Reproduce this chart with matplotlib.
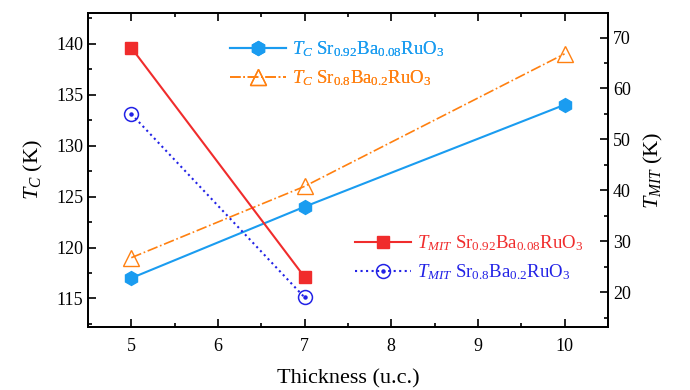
import numpy as np
import matplotlib
matplotlib.use('Agg')
import matplotlib.pyplot as plt
from matplotlib.ticker import MultipleLocator

plt.rcParams['font.family'] = 'Liberation Serif'
plt.rcParams['mathtext.fontset'] = 'custom'
plt.rcParams['mathtext.rm'] = 'Liberation Serif'
plt.rcParams['mathtext.it'] = 'Liberation Serif:italic'

# data
thick = [5, 7, 10]
tc_092 = [117, 124, 134]
tc_08 = [119, 126, 139]
thick_mit = [5, 7]
tmit_092 = [68, 23]
tmit_08 = [55, 19]

c_cyan = '#1a9cf0'
c_orange = '#ff8010'
c_red = '#f02c2c'
c_blue = '#2222e6'

fig = plt.figure(figsize=(6.9, 3.9), dpi=100)
ax = fig.add_axes([0.1275, 0.1615, 0.7535, 0.805])
ax2 = ax.twinx()

l1, = ax.plot(thick, tc_092, '-', color=c_cyan, marker='h', ms=10, lw=1.5,
              label=r'$T_C$ Sr$_{0.92}$Ba$_{0.08}$RuO$_3$')
l2, = ax.plot(thick, tc_08, '-.', color=c_orange, marker='^', ms=11, mfc='none', lw=1.2,
              label=r'$T_C$ Sr$_{0.8}$Ba$_{0.2}$RuO$_3$')
l3, = ax2.plot(thick_mit, tmit_092, '-', color=c_red, marker='s', ms=9, lw=1.5,
               label=r'$T_{MIT}$ Sr$_{0.92}$Ba$_{0.08}$RuO$_3$')
l4, = ax2.plot(thick_mit, tmit_08, ':', color=c_blue, marker='o', ms=10, mfc='none',
               mew=1.1, lw=1.5, label=r'$T_{MIT}$ Sr$_{0.8}$Ba$_{0.2}$RuO$_3$')
l4d, = ax2.plot(thick_mit, tmit_08, ls='none', color=c_blue, marker='o', ms=2.2)

ax.set_xlim(4.5, 10.5)
ax.set_ylim(112.2, 143)
ax2.set_ylim(13.2, 74.8)
ax.xaxis.set_major_locator(MultipleLocator(1))
ax.xaxis.set_minor_locator(MultipleLocator(0.5))
ax.yaxis.set_major_locator(MultipleLocator(5))
ax.yaxis.set_minor_locator(MultipleLocator(2.5))
ax2.yaxis.set_major_locator(MultipleLocator(10))
ax2.yaxis.set_minor_locator(MultipleLocator(5))

ax.tick_params(which='both', direction='in', top=True, labelsize=13)
ax.tick_params(which='major', length=6, width=1.2)
ax.tick_params(which='minor', length=3, width=1.2)
ax.tick_params(axis='x', pad=8)
ax2.tick_params(which='both', direction='in', labelsize=13)
ax2.tick_params(which='major', length=6, width=1.2)
ax2.tick_params(which='minor', length=3, width=1.2)
for sp in ax.spines.values():
    sp.set_linewidth(1.3)
for sp in ax2.spines.values():
    sp.set_linewidth(1.3)

ax.set_xlabel('Thickness (u.c.)', fontsize=16, labelpad=10)
ax.set_ylabel(r'$T_C$ (K)', fontsize=16, labelpad=8)
ax2.set_ylabel(r'$T_{MIT}$ (K)', fontsize=16, labelpad=8)

leg1 = ax.legend(handles=[l1, l2], loc='upper left', bbox_to_anchor=(0.24, 0.97),
                 frameon=False, fontsize=13.5, handlelength=3, labelspacing=0.5,
                 handletextpad=0.3)
for t, h in zip(leg1.get_texts(), [l1, l2]):
    t.set_color(h.get_color())
ax.add_artist(leg1)
leg2 = ax2.legend(handles=[l3, (l4, l4d)], labels=[l3.get_label(), l4.get_label()],
                  loc='lower right', bbox_to_anchor=(0.985, 0.09),
                  frameon=False, fontsize=13.5, handlelength=3, labelspacing=0.5,
                  handletextpad=0.3)
for t, c in zip(leg2.get_texts(), [c_red, c_blue]):
    t.set_color(c)

plt.savefig('out.png', dpi=100)
